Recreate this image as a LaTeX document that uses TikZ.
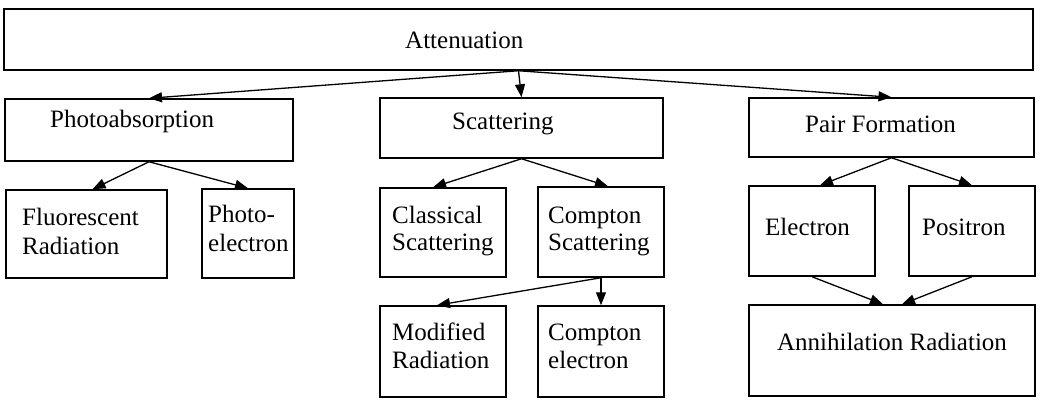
\documentclass[tikz,border=0pt]{standalone}
\usepackage{fontspec}
\setmainfont{Liberation Serif}
\usetikzlibrary{arrows.meta,fit}
\begin{document}
\begin{tikzpicture}[x=1pt,y=-1pt,
  box/.style={draw, line width=1.5pt, rectangle, inner sep=0pt},
  lbl/.style={anchor=base west, inner sep=0pt, font=\fontsize{25}{29}\selectfont},
  clbl/.style={anchor=base, inner sep=0pt, font=\fontsize{25}{29}\selectfont},
  conn/.style={line width=1.3pt, -{Triangle[length=13pt,width=10pt]}}]
\useasboundingbox (0,0) rectangle (1041,405);
% boxes
\node[box, fit={(4,9) (1033,70)}] (att) {};
\node[box, fit={(5,99) (293,161)}] (pho) {};
\node[box, fit={(380,98) (663,158)}] (sca) {};
\node[box, fit={(749,98) (1034,157)}] (pair) {};
\node[box, fit={(6,190) (167,278)}] (flu) {};
\node[box, fit={(202,189) (294,278)}] (pel) {};
\node[box, fit={(380,188) (506,277)}] (cla) {};
\node[box, fit={(538,187) (664,277)}] (csc) {};
\node[box, fit={(380,306) (506,397)}] (mod) {};
\node[box, fit={(538,306) (664,397)}] (cel) {};
\node[box, fit={(749,186) (875,276)}] (ele) {};
\node[box, fit={(909,186) (1035,276)}] (pos) {};
\node[box, fit={(749,305) (1035,396)}] (ann) {};
% labels
\node[lbl] (tatt) at (405,48) {Attenuation};
\node[lbl] (tpho) at (50,127) {Photoabsorption};
\node[lbl] (tsca) at (452,129) {Scattering};
\node[lbl] (tpair) at (805,132) {Pair Formation};
\node[lbl] (tflu1) at (22,225) {Fluorescent};
\node[lbl] (tflu2) at (22,254) {Radiation};
\node[lbl] (tpel1) at (208,222) {Photo-};
\node[lbl] (tpel2) at (208,251) {electron};
\node[lbl] (tcla1) at (392,223) {Classical};
\node[lbl] (tcla2) at (392,250) {Scattering};
\node[lbl] (tcsc1) at (548,223) {Compton};
\node[lbl] (tcsc2) at (548,250) {Scattering};
\node[lbl] (tmod1) at (392,340) {Modified};
\node[lbl] (tmod2) at (392,368) {Radiation};
\node[lbl] (tcel1) at (548,340) {Compton};
\node[lbl] (tcel2) at (548,368) {electron};
\node[lbl] (tele) at (765,235) {Electron};
\node[lbl] (tpos) at (922,235) {Positron};
\node[clbl] (tann) at (892,350) {Annihilation Radiation};
% connectors
\draw[conn] (att.south) -- (pho.north);
\draw[conn] (att.south) -- (sca.north);
\draw[conn] (att.south) -- (pair.north);
\draw[conn] (pho.south) -- ([xshift=6pt]flu.north);
\draw[conn] (pho.south) -- (pel.north);
\draw[conn] (sca.south) -- ([xshift=-10pt]cla.north);
\draw[conn] (sca.south) -- ([xshift=7pt]csc.north);
\draw[conn] (csc.south) -- ([xshift=-6pt]mod.north);
\draw[conn] (csc.south) -- (cel.north);
\draw[conn] (pair.south) -- ([xshift=8pt]ele.north);
\draw[conn] (pair.south) -- (pos.north);
\draw[conn] (ele.south) -- ([xshift=-9pt]ann.north);
\draw[conn] (pos.south) -- ([xshift=10pt]ann.north);
\end{tikzpicture}
\end{document}
